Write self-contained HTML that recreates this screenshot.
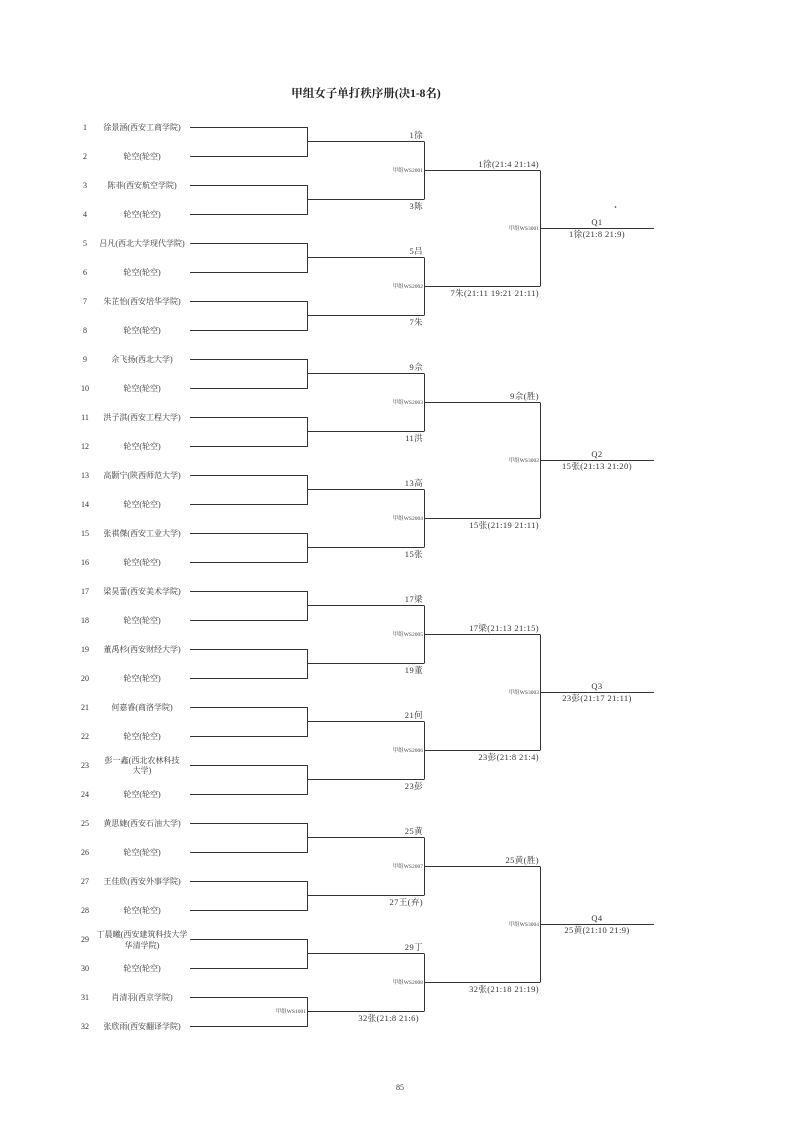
<!DOCTYPE html>
<html><head><meta charset="utf-8"><style>
html,body{margin:0;padding:0;background:#fff;}
svg{display:block;font-family:"Liberation Serif","Noto Serif CJK SC","Noto Sans CJK SC",serif;}
.p{font-size:8px;fill:#333;}
.l{font-size:8.5px;fill:#333;letter-spacing:0.4px;}
.c{font-size:5.5px;fill:#444;}
line,path{stroke:#333;stroke-width:1;fill:none;}
</style></head><body>
<svg width="800" height="1131" viewBox="0 0 800 1131">
<text x="366" y="97" text-anchor="middle" style="font-size:11.5px;font-weight:bold;fill:#222">甲组女子单打秩序册(决1-8名)</text>
<g class="p">
<text x="85" y="130" text-anchor="middle">1</text><text x="142" y="130" text-anchor="middle">徐景涵(西安工商学院)</text>
<text x="85" y="159" text-anchor="middle">2</text><text x="142" y="159" text-anchor="middle">轮空(轮空)</text>
<text x="85" y="188" text-anchor="middle">3</text><text x="142" y="188" text-anchor="middle">陈菲(西安航空学院)</text>
<text x="85" y="217" text-anchor="middle">4</text><text x="142" y="217" text-anchor="middle">轮空(轮空)</text>
<text x="85" y="246" text-anchor="middle">5</text><text x="142" y="246" text-anchor="middle">吕凡(西北大学现代学院)</text>
<text x="85" y="275" text-anchor="middle">6</text><text x="142" y="275" text-anchor="middle">轮空(轮空)</text>
<text x="85" y="304" text-anchor="middle">7</text><text x="142" y="304" text-anchor="middle">朱芷怡(西安培华学院)</text>
<text x="85" y="333" text-anchor="middle">8</text><text x="142" y="333" text-anchor="middle">轮空(轮空)</text>
<text x="85" y="362" text-anchor="middle">9</text><text x="142" y="362" text-anchor="middle">佘飞扬(西北大学)</text>
<text x="85" y="391" text-anchor="middle">10</text><text x="142" y="391" text-anchor="middle">轮空(轮空)</text>
<text x="85" y="420" text-anchor="middle">11</text><text x="142" y="420" text-anchor="middle">洪子淇(西安工程大学)</text>
<text x="85" y="449" text-anchor="middle">12</text><text x="142" y="449" text-anchor="middle">轮空(轮空)</text>
<text x="85" y="478" text-anchor="middle">13</text><text x="142" y="478" text-anchor="middle">高颢宁(陕西师范大学)</text>
<text x="85" y="507" text-anchor="middle">14</text><text x="142" y="507" text-anchor="middle">轮空(轮空)</text>
<text x="85" y="536" text-anchor="middle">15</text><text x="142" y="536" text-anchor="middle">张祺傑(西安工业大学)</text>
<text x="85" y="565" text-anchor="middle">16</text><text x="142" y="565" text-anchor="middle">轮空(轮空)</text>
<text x="85" y="594" text-anchor="middle">17</text><text x="142" y="594" text-anchor="middle">梁昊蕾(西安美术学院)</text>
<text x="85" y="623" text-anchor="middle">18</text><text x="142" y="623" text-anchor="middle">轮空(轮空)</text>
<text x="85" y="652" text-anchor="middle">19</text><text x="142" y="652" text-anchor="middle">董禹杉(西安财经大学)</text>
<text x="85" y="681" text-anchor="middle">20</text><text x="142" y="681" text-anchor="middle">轮空(轮空)</text>
<text x="85" y="710" text-anchor="middle">21</text><text x="142" y="710" text-anchor="middle">何嘉睿(商洛学院)</text>
<text x="85" y="739" text-anchor="middle">22</text><text x="142" y="739" text-anchor="middle">轮空(轮空)</text>
<text x="85" y="768" text-anchor="middle">23</text><text x="142" y="763" text-anchor="middle">彭一鑫(西北农林科技</text><text x="142" y="773" text-anchor="middle">大学)</text>
<text x="85" y="797" text-anchor="middle">24</text><text x="142" y="797" text-anchor="middle">轮空(轮空)</text>
<text x="85" y="826" text-anchor="middle">25</text><text x="142" y="826" text-anchor="middle">黄思婕(西安石油大学)</text>
<text x="85" y="855" text-anchor="middle">26</text><text x="142" y="855" text-anchor="middle">轮空(轮空)</text>
<text x="85" y="884" text-anchor="middle">27</text><text x="142" y="884" text-anchor="middle">王佳欣(西安外事学院)</text>
<text x="85" y="913" text-anchor="middle">28</text><text x="142" y="913" text-anchor="middle">轮空(轮空)</text>
<text x="85" y="942" text-anchor="middle">29</text><text x="142" y="937" text-anchor="middle">丁晨曦(西安建筑科技大学</text><text x="142" y="948" text-anchor="middle">华清学院)</text>
<text x="85" y="971" text-anchor="middle">30</text><text x="142" y="971" text-anchor="middle">轮空(轮空)</text>
<text x="85" y="1000" text-anchor="middle">31</text><text x="142" y="1000" text-anchor="middle">肖清羽(西京学院)</text>
<text x="85" y="1029" text-anchor="middle">32</text><text x="142" y="1029" text-anchor="middle">张欣雨(西安翻译学院)</text>
</g>
<path d="M190 127.5H307.5V156.5H190 M307.5 141.5H424"/>
<path d="M190 185.5H307.5V214.5H190 M307.5 199.5H424"/>
<path d="M190 243.5H307.5V272.5H190 M307.5 257.5H424"/>
<path d="M190 301.5H307.5V330.5H190 M307.5 315.5H424"/>
<path d="M190 359.5H307.5V388.5H190 M307.5 373.5H424"/>
<path d="M190 417.5H307.5V446.5H190 M307.5 431.5H424"/>
<path d="M190 475.5H307.5V504.5H190 M307.5 489.5H424"/>
<path d="M190 533.5H307.5V562.5H190 M307.5 547.5H424"/>
<path d="M190 591.5H307.5V620.5H190 M307.5 605.5H424"/>
<path d="M190 649.5H307.5V678.5H190 M307.5 663.5H424"/>
<path d="M190 707.5H307.5V736.5H190 M307.5 721.5H424"/>
<path d="M190 765.5H307.5V794.5H190 M307.5 779.5H424"/>
<path d="M190 823.5H307.5V852.5H190 M307.5 837.5H424"/>
<path d="M190 881.5H307.5V910.5H190 M307.5 895.5H424"/>
<path d="M190 939.5H307.5V968.5H190 M307.5 953.5H424"/>
<path d="M190 997.5H307.5V1026.5H190 M307.5 1011.5H424"/>
<path d="M424.5 141.5V199.5 M424.5 170.5H540"/>
<path d="M424.5 257.5V315.5 M424.5 286.5H540"/>
<path d="M424.5 373.5V431.5 M424.5 402.5H540"/>
<path d="M424.5 489.5V547.5 M424.5 518.5H540"/>
<path d="M424.5 605.5V663.5 M424.5 634.5H540"/>
<path d="M424.5 721.5V779.5 M424.5 750.5H540"/>
<path d="M424.5 837.5V895.5 M424.5 866.5H540"/>
<path d="M424.5 953.5V1011.5 M424.5 982.5H540"/>
<path d="M540.5 170.5V286.5 M540.5 228.5H654"/>
<path d="M540.5 402.5V518.5 M540.5 460.5H654"/>
<path d="M540.5 634.5V750.5 M540.5 692.5H654"/>
<path d="M540.5 866.5V982.5 M540.5 924.5H654"/>
<g class="l" text-anchor="end">
<text x="423" y="138">1徐</text><text x="423" y="209">3陈</text>
<text x="423" y="254">5吕</text><text x="423" y="325">7朱</text>
<text x="423" y="370">9佘</text><text x="423" y="441">11洪</text>
<text x="423" y="486">13高</text><text x="423" y="557">15张</text>
<text x="423" y="602">17梁</text><text x="423" y="673">19董</text>
<text x="423" y="718">21何</text><text x="423" y="789">23彭</text>
<text x="423" y="834">25黄</text><text x="423" y="905">27王(弃)</text>
<text x="423" y="950">29丁</text><text x="419" y="1021">32张(21:8 21:6)</text>
<text x="539" y="167">1徐(21:4 21:14)</text><text x="539" y="296">7朱(21:11 19:21 21:11)</text>
<text x="539" y="399">9佘(胜)</text><text x="539" y="528">15张(21:19 21:11)</text>
<text x="539" y="631">17梁(21:13 21:15)</text><text x="539" y="760">23彭(21:8 21:4)</text>
<text x="539" y="863">25黄(胜)</text><text x="539" y="992">32张(21:18 21:19)</text>
</g>
<g class="l" text-anchor="middle">
<text x="597" y="225">Q1</text><text x="597" y="237">1徐(21:8 21:9)</text>
<text x="597" y="457">Q2</text><text x="597" y="469">15张(21:13 21:20)</text>
<text x="597" y="689">Q3</text><text x="597" y="701">23彭(21:17 21:11)</text>
<text x="597" y="921">Q4</text><text x="597" y="933">25黄(21:10 21:9)</text>
</g>
<g class="c" text-anchor="end">
<text x="306" y="1013">甲组WS1001</text>
<text x="423" y="172">甲组WS2001</text><text x="423" y="288">甲组WS2002</text>
<text x="423" y="404">甲组WS2003</text><text x="423" y="520">甲组WS2004</text>
<text x="423" y="636">甲组WS2005</text><text x="423" y="752">甲组WS2006</text>
<text x="423" y="868">甲组WS2007</text><text x="423" y="984">甲组WS2008</text>
<text x="539" y="230">甲组WS3001</text><text x="539" y="462">甲组WS3002</text>
<text x="539" y="694">甲组WS3003</text><text x="539" y="926">甲组WS3004</text>
</g>
<circle cx="615.5" cy="207" r="0.8" fill="#333"/>
<text x="400" y="1090" text-anchor="middle" style="font-size:8px;fill:#333">85</text>
</svg>
</body></html>
